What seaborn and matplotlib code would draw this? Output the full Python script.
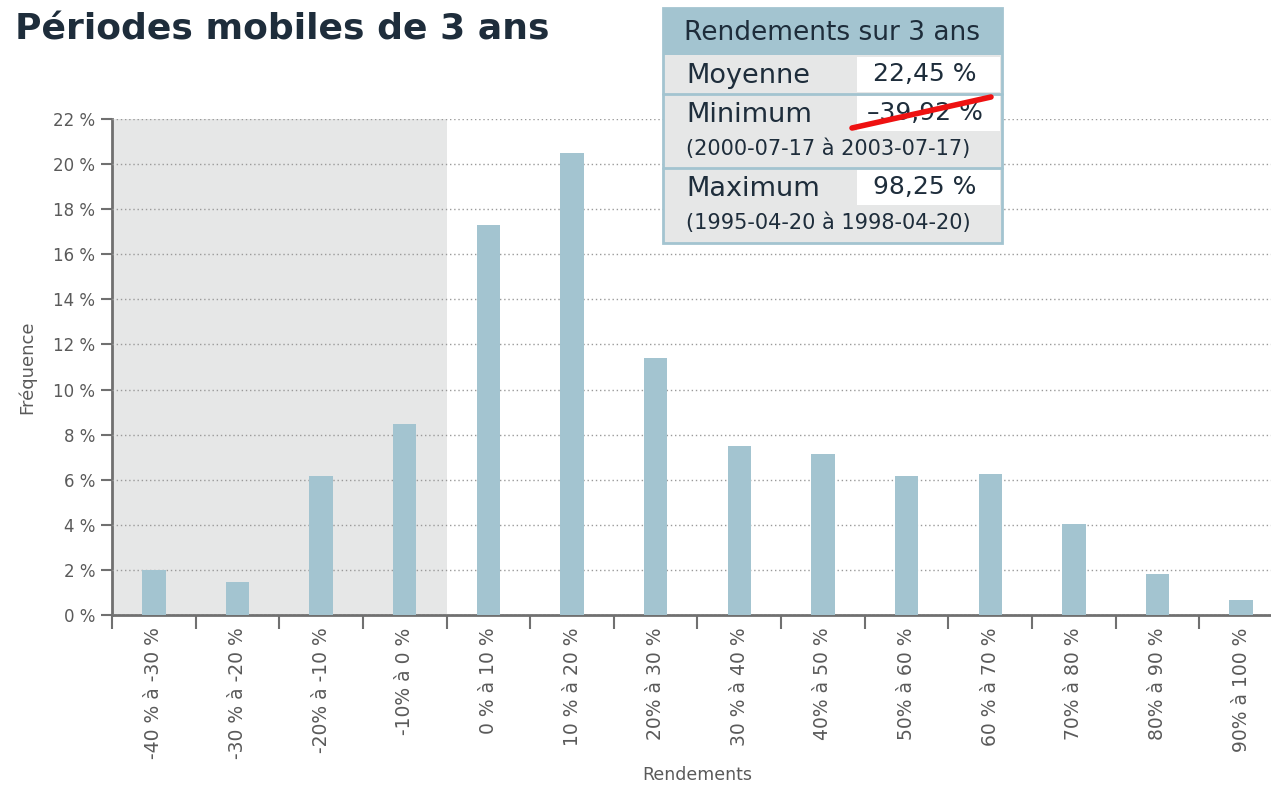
import matplotlib
matplotlib.use("Agg")
import matplotlib.pyplot as plt
from matplotlib.patches import Rectangle
from matplotlib.lines import Line2D
import pandas as pd
import seaborn as sns

# data
categories = ["-40 % à -30 %", "-30 % à -20 %", "-20% à -10 %", "-10% à 0 %",
              "0 % à 10 %", "10 % à 20 %", "20% à 30 %", "30 % à 40 %",
              "40% à 50 %", "50% à 60 %", "60 % à 70 %", "70% à 80 %",
              "80% à 90 %", "90% à 100 %"]
frequency = [2.0, 1.45, 6.15, 8.45, 17.3, 20.5, 11.4, 7.5,
             7.15, 6.15, 6.25, 4.05, 1.8, 0.65]
n_negative = 4
y_ticks = list(range(0, 23, 2))

table_title = "Rendements sur 3 ans"
stat_labels = ["Moyenne", "Minimum", "Maximum"]
stat_values = ["22,45 %", "–39,92 %", "98,25 %"]
stat_periods = [None, "(2000-07-17 à 2003-07-17)", "(1995-04-20 à 1998-04-20)"]

BAR = "#a3c4d0"
SHADE = "#e6e7e7"
DARK = "#1e2d3b"
GREY = "#5a5a5a"
W, H = 1271, 785

sns.set_theme(style="white")
plt.rcParams["font.family"] = ["DejaVu Sans"]

df = pd.DataFrame({"Rendements": categories, "Fréquence": frequency})

fig = plt.figure(figsize=(W / 100, H / 100), dpi=100)
ax = fig.add_axes([112 / W, 170 / H, 1171 / W, 496 / H])

# shaded zone for negative returns
ax.axvspan(-0.5, n_negative - 0.5, color=SHADE, zorder=0, lw=0)

sns.barplot(data=df, x="Rendements", y="Fréquence", color=BAR, width=0.28,
            saturation=1, linewidth=0, ax=ax, zorder=3)

ax.set_xlim(-0.5, len(categories) - 0.5)
ax.set_ylim(0, 22)
ax.set_yticks(y_ticks)
ax.set_yticklabels([f"{t} %" for t in y_ticks], fontsize=12, color=GREY)
ax.yaxis.grid(True, color="#9a9a9a", linestyle=(0, (1, 2)), lw=1)
ax.set_axisbelow(False)
for gl in ax.get_ygridlines():
    gl.set_zorder(1)

ax.set_xticks(range(len(categories)))
ax.set_xticklabels(categories, rotation=90, fontsize=13.5, color=GREY)
ax.set_xticks([i - 0.5 for i in range(len(categories) + 1)], minor=True)
ax.tick_params(axis="x", which="major", length=0, pad=9)
ax.tick_params(axis="x", which="minor", length=10, width=1.5, color="#707070",
               direction="out", bottom=True)
ax.tick_params(axis="y", length=8, width=1.5, color="#707070", left=True,
               direction="out", pad=4)

for side in ["top", "right"]:
    ax.spines[side].set_visible(False)
for side in ["left", "bottom"]:
    ax.spines[side].set_color("#707070")
    ax.spines[side].set_linewidth(2)

ax.set_xlabel("Rendements", fontsize=12.5, color=GREY)
ax.xaxis.set_label_coords(0.5, -0.322)
ax.xaxis.label.set_va("center")
ax.set_ylabel("Fréquence", fontsize=13, color=GREY, labelpad=12)

fig.text(15 / W, 1 - 30 / H, "Périodes mobiles de 3 ans", fontsize=26,
         fontweight="bold", color=DARK, va="center", ha="left")


# summary table, positioned in pixels
def px(x, y):
    return x / W, 1 - y / H


def box(x0, y0, x1, y1, fc, ec="none", lw=0):
    fig.patches.append(Rectangle(px(x0, y1), (x1 - x0) / W, (y1 - y0) / H,
                                 transform=fig.transFigure, fc=fc, ec=ec,
                                 lw=lw, zorder=5))


def hline(y, x0=663, x1=1002, color=BAR, lw=2):
    fig.lines.append(Line2D([x0 / W, x1 / W], [1 - y / H, 1 - y / H],
                            transform=fig.transFigure, color=color, lw=lw,
                            zorder=6))


box(663, 8, 1002, 243, SHADE)
box(663, 8, 1002, 55, BAR)
fig.text(*px(832, 33), table_title, fontsize=19, color=DARK,
         ha="center", va="center", zorder=7)

row_tops = [55, 94, 168]
for i, top in enumerate(row_tops):
    box(857, top + 2, 1000, top + 37, "white")
    fig.text(*px(686, top + 21), stat_labels[i], fontsize=19.5, color=DARK,
             ha="left", va="center", zorder=7)
    fig.text(*px(925, top + 19), stat_values[i], fontsize=18, color=DARK,
             ha="center", va="center", zorder=7)
    if stat_periods[i]:
        fig.text(*px(686, top + 55), stat_periods[i], fontsize=15,
                 color=DARK, ha="left", va="center", zorder=7)
hline(94)
hline(168)
box(663, 8, 1002, 243, "none", ec=BAR, lw=2)

# red strike-through over the minimum value
fig.lines.append(Line2D([852 / W, 991 / W], [1 - 128 / H, 1 - 97 / H],
                        transform=fig.transFigure, color="#ee1111", lw=4,
                        zorder=8))

fig.savefig("out.png", dpi=100)
